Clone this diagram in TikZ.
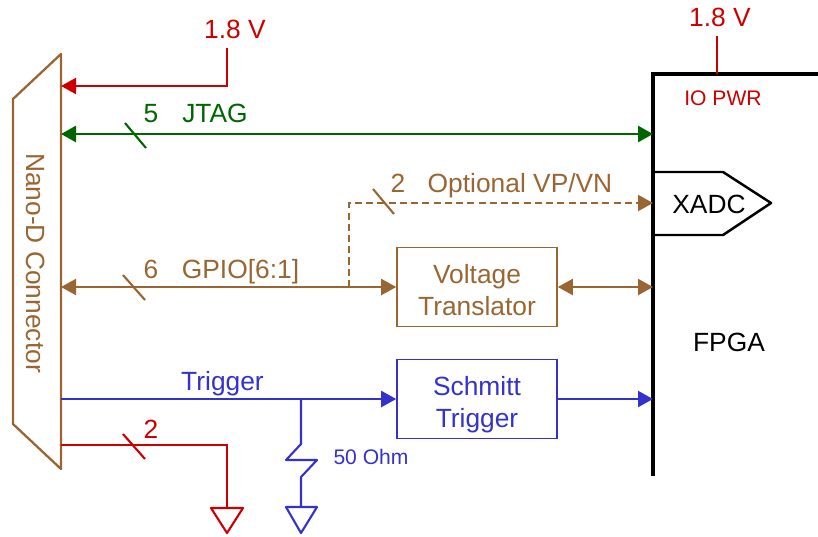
\documentclass[tikz,border=0pt]{standalone}
\usepackage{fontspec}
\setmainfont{Liberation Sans}
\usetikzlibrary{arrows.meta}
\definecolor{pwrred}{HTML}{CC0000}
\definecolor{jtaggreen}{HTML}{006600}
\definecolor{iobrown}{HTML}{996633}
\definecolor{trigblue}{HTML}{3333CC}
\tikzset{
  biglabel/.style={font=\fontsize{7.5}{9.1}\selectfont, inner sep=0pt, anchor=base},
  smalllabel/.style={font=\fontsize{6}{7}\selectfont, inner sep=0pt, anchor=base},
  sig/.style={line width=0.6pt},
  tip/.style={-{Triangle[length=1.5mm,width=1.6mm]}},
  bothtip/.style={{Triangle[length=1.5mm,width=1.6mm]}-{Triangle[length=1.5mm,width=1.6mm]}},
  blockbox/.style={draw, line width=0.45pt, minimum width=1.6cm, minimum height=0.79cm, inner sep=0pt},
  blocktext/.style={font=\fontsize{7.5}{9.1}\selectfont, align=center, inner sep=0pt},
}
\begin{document}
\begin{tikzpicture}
\useasboundingbox (0,0) rectangle (8.18,5.36);

% Nano-D connector
\draw[iobrown, line width=0.65pt, line join=round] (0.13,4.37) -- (0.61,4.82) -- (0.61,0.67) -- (0.13,1.12) -- cycle;
\node[blocktext, iobrown, rotate=-90] (nano) at (0.36,2.73) {Nano-D Connector};

% FPGA edge
\draw[line width=1.3pt] (8.18,4.62) -- (6.53,4.62) -- (6.53,0.60);
\node[biglabel] (fpga) at (7.29,1.85) {FPGA};
\node[smalllabel, pwrred] (iopwr) at (7.23,4.31) {IO PWR};

% End points on the two edges
\coordinate (connpwr) at (0.61,4.50);
\coordinate (connjtag) at (0.61,4.02);
\coordinate (conngpio) at (0.61,2.49);
\coordinate (conntrig) at (0.61,1.37);
\coordinate (conngnd) at (0.61,0.91);
\coordinate (fpgajtag) at (6.53,4.02);
\coordinate (fpgaxadc) at (6.53,3.33);
\coordinate (fpgavolt) at (6.53,2.49);
\coordinate (fpgatrig) at (6.53,1.37);

% Power
\node[biglabel, pwrred] (pwrleft) at (2.35,4.98) {1.8 V};
\node[biglabel, pwrred] (pwrright) at (7.20,5.10) {1.8 V};
\coordinate (pwrtop) at (2.27,4.88);
\coordinate (pwrcorner) at (2.27,4.50);
\coordinate (iotop) at (7.17,5.00);
\coordinate (ioedge) at (7.17,4.62);
\draw[pwrred, sig, tip] (pwrtop) -- (pwrcorner) -- (connpwr);
\draw[pwrred, sig] (iotop) -- (ioedge);

% JTAG
\draw[jtaggreen, line width=0.8pt, bothtip] (connjtag) -- (fpgajtag);
\draw[jtaggreen, sig] (1.25,4.13) -- (1.46,3.88);
\node[biglabel, jtaggreen] (jtagn) at (1.51,4.14) {5};
\node[biglabel, jtaggreen] (jtag) at (2.15,4.14) {JTAG};

% XADC
\node[biglabel] (xadc) at (7.09,3.23) {XADC};
\draw[line width=0.7pt, line join=round] (6.53,3.64) -- (7.23,3.64) -- (7.71,3.33) -- (7.23,3.01) -- (6.53,3.01);

% GPIO and translator
\node[blockbox, iobrown] (volt) at (4.77,2.49) {};
\node[blocktext, iobrown] (volttext) at (4.77,2.455) {Voltage\\Translator};
\coordinate (branch) at (3.49,2.49);
\coordinate (branchtop) at (3.49,3.33);
\draw[iobrown, sig, bothtip] (conngpio) -- (volt.west);
\draw[iobrown, sig, bothtip] (volt.east) -- (fpgavolt);
\draw[iobrown, sig, dash pattern=on 2pt off 1.2pt, tip] (branch) -- (branchtop) -- (fpgaxadc);
\draw[iobrown, sig] (1.23,2.61) -- (1.45,2.36);
\draw[iobrown, sig] (3.73,3.47) -- (3.94,3.22);
\node[biglabel, iobrown] (gpion) at (1.51,2.58) {6};
\node[biglabel, iobrown] (gpio) at (2.405,2.58) {GPIO[6:1]};
\node[biglabel, iobrown] (vpn) at (3.98,3.44) {2};
\node[biglabel, iobrown] (vpvn) at (5.20,3.44) {Optional VP/VN};

% Trigger
\node[blockbox, trigblue] (schmitt) at (4.77,1.37) {};
\node[blocktext, trigblue] (schmitttext) at (4.77,1.315) {Schmitt\\Trigger};
\draw[trigblue, sig, tip] (conntrig) -- (schmitt.west);
\draw[trigblue, sig, tip] (schmitt.east) -- (fpgatrig);
\node[biglabel, trigblue] (trig) at (2.225,1.46) {Trigger};

% 50 Ohm to ground
\coordinate (termtop) at (3.01,1.37);
\coordinate (termgnd) at (3.01,0.29);
\draw[trigblue, sig, line join=round] (termtop) -- (3.01,0.92) -- (2.86,0.76) -- (3.17,0.76) -- (3.01,0.59) -- (termgnd);
\draw[trigblue, sig, line join=round] (2.86,0.29) -- (3.17,0.29) -- (3.01,0.03) -- cycle;
\node[smalllabel, trigblue] (ohm) at (3.71,0.72) {50 Ohm};

% Ground
\coordinate (gndcorner) at (2.27,0.91);
\coordinate (gndtop) at (2.27,0.28);
\draw[pwrred, sig] (conngnd) -- (gndcorner) -- (gndtop);
\draw[pwrred, sig, line join=round] (2.11,0.28) -- (2.43,0.28) -- (2.27,0.03) -- cycle;
\draw[pwrred, sig] (1.23,1.02) -- (1.45,0.77);
\node[biglabel, pwrred] (gndn) at (1.51,0.98) {2};
\end{tikzpicture}
\end{document}
